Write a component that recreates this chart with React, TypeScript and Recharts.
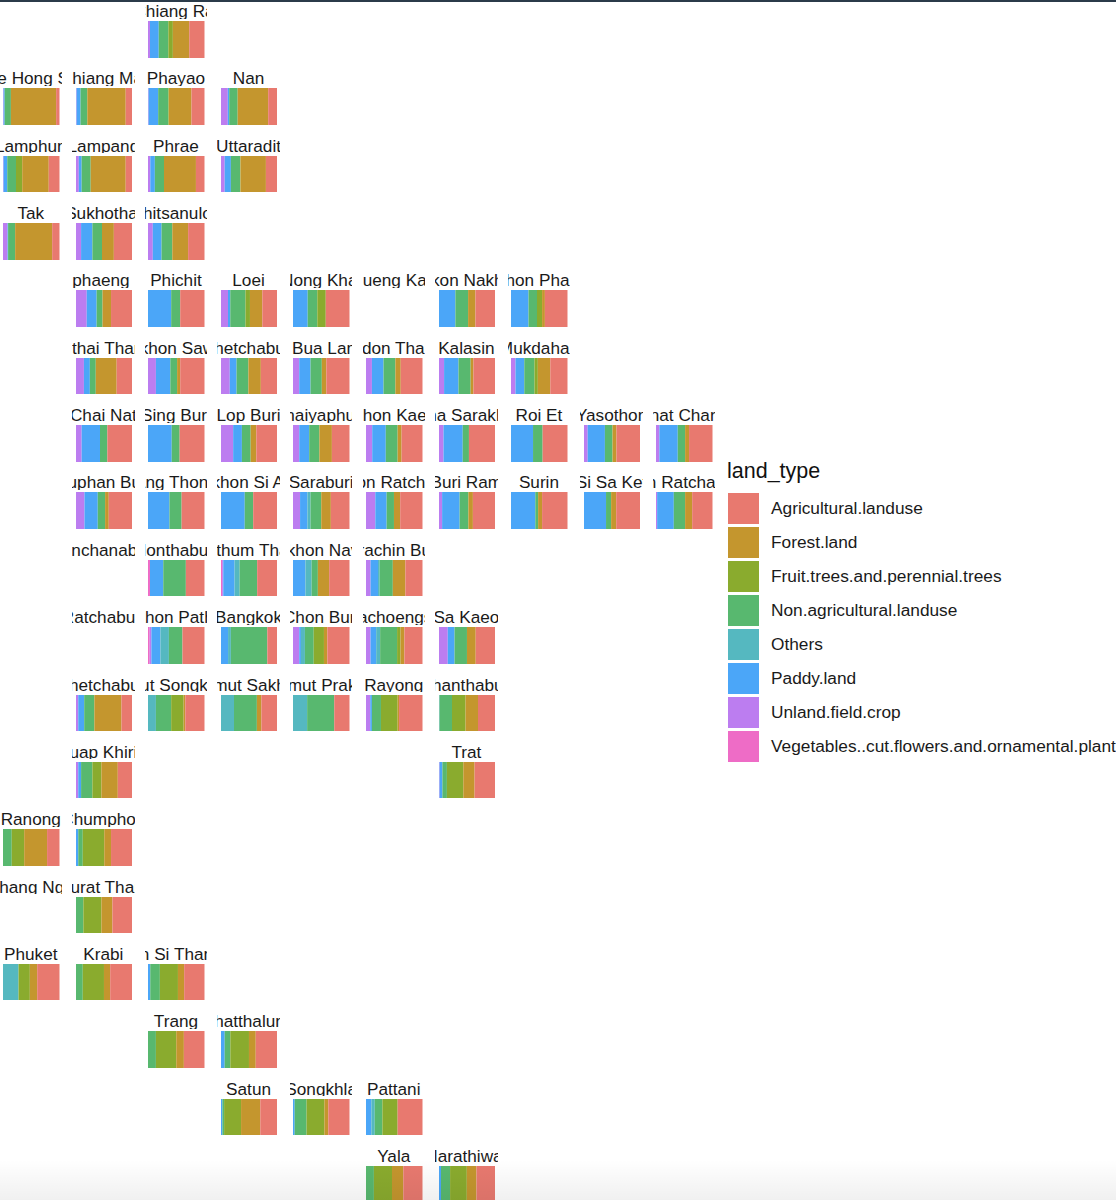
import { BarChart, Bar, XAxis, YAxis } from "recharts";

// geofacet layout, one entry per column, row by row
const gridRows: (string | null)[][] = [
  [null, null, "Chiang Rai"],
  ["Mae Hong Son", "Chiang Mai", "Phayao", "Nan"],
  ["Lamphun", "Lampang", "Phrae", "Uttaradit"],
  ["Tak", "Sukhothai", "Phitsanulok"],
  [null, "Kamphaeng Phet", "Phichit", "Loei", "Nong Khai", "Bueng Kan", "Sakon Nakhon", "Nakhon Phanom"],
  [null, "Uthai Thani", "Nakhon Sawan", "Phetchabun", "Nong Bua Lam Phu", "Udon Thani", "Kalasin", "Mukdahan"],
  [null, "Chai Nat", "Sing Buri", "Lop Buri", "Chaiyaphum", "Khon Kaen", "Maha Sarakham", "Roi Et", "Yasothon", "Amnat Charoen"],
  [null, "Suphan Buri", "Ang Thong", "Phra Nakhon Si Ayutthaya", "Saraburi", "Nakhon Ratchasima", "Buri Ram", "Surin", "Si Sa Ket", "Ubon Ratchathani"],
  [null, "Kanchanaburi", "Nonthaburi", "Pathum Thani", "Nakhon Nayok", "Prachin Buri"],
  [null, "Ratchaburi", "Nakhon Pathom", "Bangkok", "Chon Buri", "Chachoengsao", "Sa Kaeo"],
  [null, "Phetchaburi", "Samut Songkhram", "Samut Sakhon", "Samut Prakan", "Rayong", "Chanthaburi"],
  [null, "Prachuap Khiri Khan", null, null, null, null, "Trat"],
  ["Ranong", "Chumphon"],
  ["Phang Nga", "Surat Thani"],
  ["Phuket", "Krabi", "Nakhon Si Thammarat"],
  [null, null, "Trang", "Phatthalung"],
  [null, null, null, "Satun", "Songkhla", "Pattani"],
  [null, null, null, null, null, "Yala", "Narathiwat"],
];

// shares in %, same order as the names in gridRows, one line per row
const agricultural = [
  27,
  6, 12, 23, 16.5,
  19, 12, 15, 20.5,
  13, 33, 29,
  38, 43, 27, 42, 0, 35.5, 40,
  28, 43, 29.5, 41, 38.5, 39, 30.5,
  44.5, 44, 37.5, 31, 37, 47, 44, 42.5, 41.5,
  42, 40.5, 43, 33, 39.5, 40, 45, 43, 36,
  0, 33, 36, 36, 30,
  0, 39, 18, 39, 32, 35,
  19.5, 34, 28.5, 27, 41.5, 31,
  26, 37,
  22, 38,
  0, 35.5,
  39.5, 39.5, 36,
  36.5, 38.5,
  30.5, 37.5, 44,
  34, 33.5,
];
const forest = [
  29,
  80, 68, 40, 54,
  47, 62, 56, 45,
  65.5, 21, 28,
  15, 0, 22, 0, 0, 13, 5,
  37, 5.5, 22, 8, 9.5, 5, 22,
  0, 0, 10, 22, 7, 0, 0, 7, 7,
  6.5, 0, 0, 17, 11, 8, 7, 9, 12.5,
  0, 0, 0, 20, 22,
  0, 0, 0, 6, 7, 15.5,
  48, 3, 8, 0, 2.5, 22,
  29, 20,
  40.5, 12,
  0, 19.5,
  13, 11, 11,
  13.5, 12,
  34, 7, 0,
  20, 17,
];
const fruit = [
  8,
  0, 0, 1, 0,
  11, 0, 0, 0.5,
  0, 0, 0,
  0, 0, 8, 15, 0, 0, 9,
  0, 0, 0, 0, 0, 0, 6,
  0, 0, 0, 0, 0, 0, 0, 0, 0,
  0, 0, 0, 0, 0, 0, 0, 0, 0,
  0, 0, 0, 0, 0,
  0, 0, 0, 18, 6, 0,
  0, 22, 0, 0, 29.5, 24,
  16, 29,
  22, 38,
  0, 32,
  20, 37.5, 32,
  36, 33,
  30, 31.5, 27,
  32, 29.5,
];
const nonAgricultural = [
  17,
  11, 12, 18, 15,
  15.5, 16, 16, 16.5,
  12.5, 17, 19,
  10.5, 16, 27, 17, 0, 22.5, 15,
  10.5, 12, 21, 20, 21, 21.5, 18,
  13, 14, 15.5, 18, 21, 11, 17, 13.5, 13,
  13, 21.5, 15, 19, 13, 15.5, 5, 9, 20,
  0, 40, 31, 11, 23,
  0, 24, 64.5, 15.5, 30, 22,
  18, 27, 40.5, 48, 16, 22,
  20, 8,
  15.5, 8,
  0, 13,
  0, 12, 17,
  14, 10,
  3, 21, 13.5,
  14, 16,
];
const others = [
  0,
  0, 0, 0, 0,
  0, 0, 0, 0,
  0, 0, 0,
  0, 0, 0, 0, 0, 0, 0,
  0, 0, 0, 0, 0, 0, 0,
  0, 0, 0, 0, 0, 0, 0, 0, 0,
  0, 0, 0, 5.5, 0, 0, 0, 0, 0,
  0, 0, 9, 11, 3,
  0, 15, 5, 7, 7, 0,
  0, 14, 23, 25, 0, 1,
  0, 0,
  0, 0,
  0, 0,
  27.5, 0, 0,
  0, 0,
  0, 0, 6,
  0, 0,
];
const paddy = [
  15.5,
  2, 7, 17, 2.5,
  6.5, 5, 8, 11,
  1, 20, 15.5,
  17.5, 41, 4, 26, 0, 29, 31,
  10.5, 25.5, 12, 20, 20.5, 25.5, 15.5,
  32.5, 42, 15.5, 17.5, 24, 34, 39, 30.5, 32.5,
  23.5, 38, 42, 13, 20, 31, 43, 39, 29.5,
  0, 23.5, 20, 22, 13,
  0, 16, 12.5, 3, 10, 12,
  10.5, 0, 0, 0, 3, 0,
  5, 5,
  0, 4,
  0, 0,
  0, 0, 4,
  0, 6.5,
  2.5, 3, 9.5,
  0, 3.5,
];
const upland = [
  3.5,
  1, 1, 1, 12,
  1, 5, 4, 6.5,
  8, 9, 8.5,
  19, 0, 12.5, 0, 0, 0, 0,
  14, 14, 15.5, 11, 10.5, 9, 8,
  10, 0, 21.5, 11, 11, 8, 0, 6.5, 6,
  15, 0, 0, 12.5, 16.5, 5.5, 0, 0, 2,
  0, 0, 2, 0, 8,
  0, 3, 0, 11, 8, 15.5,
  4, 0, 0, 0, 7.5, 0,
  4, 1,
  0, 0,
  0, 0,
  0, 0, 0,
  0, 0,
  0, 0, 0,
  0, 0,
];
const vegetables = [
  0,
  0, 0, 0, 0,
  0, 0, 0, 0,
  0, 0, 0,
  0, 0, 0, 0, 0, 0, 0,
  0, 0, 0, 0, 0, 0, 0,
  0, 0, 0, 0, 0, 0, 0, 0, 0,
  0, 0, 0, 0, 0, 0, 0, 0, 0,
  0, 3.5, 2, 0, 0,
  0, 3, 0, 0, 0, 0,
  0, 0, 0, 0, 0, 0,
  0, 0,
  0, 0,
  0, 0,
  0, 0, 0,
  0, 0,
  0, 0, 0,
  0, 0,
];

// legend order, top to bottom
const landTypes = [
  { key: "Agricultural.landuse", values: agricultural, color: "#E8796F" },
  { key: "Forest.land", values: forest, color: "#C4962E" },
  { key: "Fruit.trees.and.perennial.trees", values: fruit, color: "#8AAB2E" },
  { key: "Non.agricultural.landuse", values: nonAgricultural, color: "#58B86F" },
  { key: "Others", values: others, color: "#55B8C0" },
  { key: "Paddy.land", values: paddy, color: "#4BA6F8" },
  { key: "Unland.field.crop", values: upland, color: "#BC7DF0" },
  { key: "Vegetables..cut.flowers.and.ornamental.plants", values: vegetables, color: "#EE6CC6" },
];

const provinces = gridRows.flat().filter((name) => name !== null) as string[];

const FONT = '"Liberation Sans", Arial, sans-serif';
const COL_START = 3;
const COL_STEP = 72.6;
const ROW_START = 21;
const ROW_STEP = 67.35;
const TILE_W = 56.5;
const TILE_H = 36.5;

function Tile({ name, row, col }: { name: string; row: number; col: number }) {
  const index = provinces.indexOf(name);
  const datum: Record<string, any> = { name };
  landTypes.forEach((t) => {
    datum[t.key] = t.values[index];
  });
  const x = COL_START + col * COL_STEP;
  const y = ROW_START + row * ROW_STEP;

  return (
    <>
      <div
        style={{
          position: "absolute",
          left: x - 3.5,
          top: y - 20,
          width: TILE_W + 6,
          height: 17.5,
          lineHeight: "21px",
          fontSize: 17.2,
          color: "#1a1a1a",
          whiteSpace: "nowrap",
          overflow: "hidden",
          display: "flex",
          justifyContent: "center",
        }}
      >
        {name}
      </div>
      <div style={{ position: "absolute", left: x, top: y }}>
        <BarChart
          width={TILE_W}
          height={TILE_H}
          data={[datum]}
          layout="vertical"
          stackOffset="expand"
          barCategoryGap={0}
          margin={{ top: 0, right: 0, bottom: 0, left: 0 }}
        >
          <XAxis type="number" domain={[0, 1]} hide />
          <YAxis type="category" dataKey="name" hide />
          {[...landTypes].reverse().map((t) => (
            <Bar key={t.key} dataKey={t.key} stackId="a" fill={t.color} isAnimationActive={false} />
          ))}
        </BarChart>
      </div>
    </>
  );
}

export default function App() {
  return (
    <div
      style={{
        position: "absolute",
        left: 0,
        top: 0,
        width: 1116,
        height: 1200,
        overflow: "hidden",
        background: "#fff",
        fontFamily: FONT,
      }}
    >
      <div style={{ position: "absolute", left: 0, top: 0, width: 1116, height: 2, background: "#2b3b4a" }} />

      {gridRows.map((cells, row) =>
        cells.map((name, col) =>
          name ? <Tile key={name} name={name} row={row} col={col} /> : null
        )
      )}

      <div style={{ position: "absolute", left: 727, top: 459, fontSize: 21.5, lineHeight: "24px", color: "#111" }}>
        land_type
      </div>
      {landTypes.map((t, i) => (
        <div key={t.key}>
          <div
            style={{
              position: "absolute",
              left: 728,
              top: 492.5 + i * 34,
              width: 31,
              height: 31,
              background: t.color,
            }}
          />
          <div
            style={{
              position: "absolute",
              left: 771,
              top: 493 + i * 34,
              height: 31,
              lineHeight: "31px",
              fontSize: 17.3,
              color: "#1a1a1a",
              whiteSpace: "nowrap",
            }}
          >
            {t.key}
          </div>
        </div>
      ))}

      <div
        style={{
          position: "absolute",
          left: 0,
          top: 1160,
          width: 1116,
          height: 40,
          background: "linear-gradient(rgba(0,0,0,0), rgba(0,0,0,0.06))",
          pointerEvents: "none",
        }}
      />
    </div>
  );
}
